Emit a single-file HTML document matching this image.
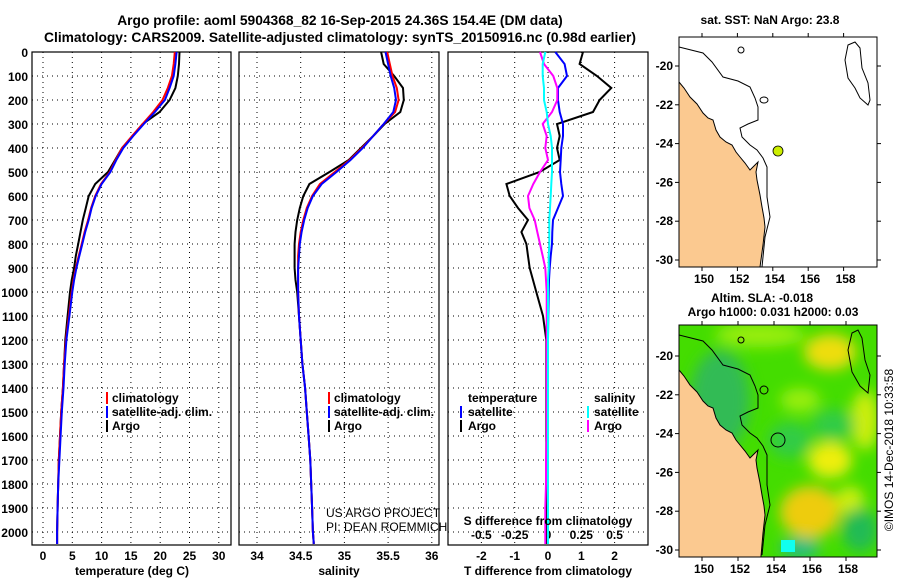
<!DOCTYPE html>
<html><head><meta charset="utf-8"><style>
body{margin:0;background:#fff;}
svg{display:block;font-family:"Liberation Sans",sans-serif;font-weight:bold;font-size:12px;}
</style></head><body>
<svg id="fig" width="900" height="580" viewBox="0 0 900 580">
<text x="340" y="25" text-anchor="middle" font-size="13.8">Argo profile: aoml 5904368_82 16-Sep-2015 24.36S 154.4E (DM data)</text>
<text x="340" y="42" text-anchor="middle" font-size="13.8">Climatology: CARS2009. Satellite-adjusted climatology: synTS_20150916.nc (0.98d earlier)</text>
<g id="axes"></g>
<g id="series"></g>

<g>
<rect x="106" y="392" width="2" height="12" fill="#f00"/><text x="112" y="402">climatology</text>
<rect x="106" y="406" width="2" height="12" fill="#00f"/><text x="112" y="416">satellite-adj. clim.</text>
<rect x="106" y="420" width="2" height="12" fill="#000"/><text x="112" y="430">Argo</text>
</g>
<g>
<rect x="328" y="392" width="2" height="12" fill="#f00"/><text x="334" y="402">climatology</text>
<rect x="328" y="406" width="2" height="12" fill="#00f"/><text x="334" y="416">satellite-adj. clim.</text>
<rect x="328" y="420" width="2" height="12" fill="#000"/><text x="334" y="430">Argo</text>
</g>
<text x="326" y="517" font-weight="normal">US ARGO PROJECT</text>
<text x="326" y="531" font-weight="normal">PI: DEAN ROEMMICH</text>
<g>
<text x="468" y="402">temperature</text>
<rect x="460" y="406" width="2" height="12" fill="#00f"/><text x="468" y="416">satellite</text>
<rect x="460" y="420" width="2" height="12" fill="#000"/><text x="468" y="430">Argo</text>
<text x="594" y="402">salinity</text>
<rect x="587" y="406" width="2" height="12" fill="#0ff"/><text x="594" y="416">satellite</text>
<rect x="587" y="420" width="2" height="12" fill="#f0f"/><text x="594" y="430">Argo</text>
</g>
<text x="548" y="525" text-anchor="middle">S difference from climatology</text>

<text x="770" y="24" text-anchor="middle">sat. SST: NaN Argo: 23.8</text>
<g>
<rect x="679" y="37" width="198" height="230" fill="#fff"/>
<polygon fill="#fbc990" stroke="#000" stroke-width="1" points="679,82 684,88 690,97 697,104 703,113 708,118 713,120 716,130 720,137 726,142 732,145 736,152 740,157 745,163 750,170 755,165 758,162 756,172 757,180 760,195 762,207 764,218 765,227 763,245 760,267 679,267"/>
<polyline fill="none" stroke="#000" stroke-width="1" points="679,47 703,53 712,62 723,77 738,81 750,87 755,98 758,107 758,120 748,124 740,128 742,137 750,145 757,150 763,158 767,167 767,182 767,197 770,217 765,237 762,267"/>
<polygon fill="none" stroke="#000" points="848,45 855,42 860,48 862,68 868,83 870,100 868,105 860,98 855,88 848,78 845,60"/>
<ellipse cx="741" cy="50" rx="3" ry="3" fill="none" stroke="#000"/>
<ellipse cx="764" cy="100" rx="4" ry="3" fill="none" stroke="#000"/>
<circle cx="778" cy="151" r="5" fill="#ccee00" stroke="#000" stroke-width="0.8"/>
<rect x="679" y="37" width="198" height="230" fill="none" stroke="#000"/>
</g>
<g id="map1ticks"></g>

<text x="762" y="302" text-anchor="middle">Altim. SLA: -0.018</text>
<text x="773" y="316" text-anchor="middle">Argo h1000: 0.031 h2000: 0.03</text>
<g>
<defs><clipPath id="c2"><rect x="679" y="325" width="198" height="232"/></clipPath>
<filter id="bl"><feGaussianBlur stdDeviation="7"/></filter></defs>
<g clip-path="url(#c2)">
<rect x="679" y="325" width="198" height="232" fill="#44dd00"/>
<g filter="url(#bl)">
<ellipse cx="830" cy="352" rx="26" ry="18" fill="#eedd11"/>
<ellipse cx="760" cy="335" rx="45" ry="12" fill="#99ee11"/>
<ellipse cx="800" cy="400" rx="20" ry="12" fill="#99ee11"/>
<ellipse cx="830" cy="460" rx="22" ry="18" fill="#eeee11"/>
<ellipse cx="810" cy="512" rx="30" ry="26" fill="#eecc11"/>
<ellipse cx="865" cy="420" rx="14" ry="30" fill="#ccee11"/>
<ellipse cx="850" cy="500" rx="14" ry="14" fill="#ccee11"/>
<ellipse cx="860" cy="530" rx="18" ry="22" fill="#22bb55"/>
<ellipse cx="833" cy="425" rx="22" ry="16" fill="#33cc44"/>
<ellipse cx="790" cy="440" rx="22" ry="18" fill="#33cc44"/>
<ellipse cx="720" cy="400" rx="30" ry="50" fill="#33bb55"/>
<ellipse cx="800" cy="548" rx="20" ry="10" fill="#22bb88"/>
</g>
<rect x="781" y="540" width="14" height="12" fill="#11ffee"/>
<polygon fill="#fbc990" stroke="#000" transform="translate(0,288)" points="679,82 684,88 690,97 697,104 703,113 708,118 713,120 716,130 720,137 726,142 732,145 736,152 740,157 745,163 750,170 755,165 758,162 756,172 757,180 760,195 762,207 764,218 765,227 763,245 760,280 679,280"/>
<polyline fill="none" stroke="#000" transform="translate(0,288)" points="679,47 703,53 712,62 723,77 738,81 750,87 755,98 758,107 758,120 748,124 740,128 742,137 750,145 757,150 763,158 767,167 767,182 767,197 770,217 765,237 762,267"/>
<polygon fill="none" stroke="#000" points="852,333 858,330 862,338 865,360 870,375 868,393 860,386 852,372 848,350"/>
<circle cx="778" cy="440" r="7" fill="none" stroke="#000"/>
<circle cx="741" cy="340" r="3" fill="none" stroke="#000"/>
<circle cx="764" cy="390" r="4" fill="none" stroke="#000"/>
</g>
<rect x="679" y="325" width="198" height="232" fill="none" stroke="#000"/>
</g>
<g id="map2ticks"></g>
<text transform="translate(893,450) rotate(-90)" text-anchor="middle" font-weight="normal" font-size="12">©IMOS 14-Dec-2018 10:33:58</text>
</svg>
<script>
const depths = [0,50,100,150,200,250,300,350,400,450,500,550,600,650,700,750,800,850,900,950,1000,1100,1200,1300,1400,1500,1600,1700,1800,1900,2000,2050];
const tempClim = [22.5,22.3,22.0,21.3,20.4,18.8,17.0,15.2,13.5,12.4,11.4,9.9,8.9,8.2,7.7,7.1,6.6,6.1,5.6,5.2,4.9,4.4,3.9,3.6,3.4,3.1,2.9,2.7,2.6,2.5,2.4,2.4];
const tempSat = [22.8,22.6,22.3,21.6,20.8,19.1,17.2,15.4,13.7,12.5,11.5,10.0,9.0,8.3,7.8,7.2,6.7,6.2,5.7,5.3,5.0,4.5,4.0,3.7,3.5,3.2,3.0,2.8,2.6,2.5,2.4,2.4];
const tempArgo = [23.3,23.2,23.0,22.6,21.6,19.9,17.0,15.3,13.5,12.3,11.1,8.9,7.8,7.3,6.8,6.4,6.0,5.6,5.3,4.9,4.6,4.2,3.8,3.6,3.4,3.1,2.9,2.7,2.6,2.5,2.4,2.4];
const salClim = [35.49,35.52,35.55,35.6,35.62,35.58,35.45,35.33,35.2,35.06,34.89,34.72,34.63,34.57,34.53,34.5,34.48,34.47,34.47,34.47,34.47,34.48,34.5,34.52,34.55,34.57,34.59,34.61,34.62,34.63,34.64,34.65];
const salSat = [35.47,35.5,35.53,35.57,35.59,35.56,35.45,35.33,35.21,35.07,34.91,34.74,34.64,34.58,34.54,34.51,34.49,34.48,34.47,34.47,34.47,34.48,34.5,34.52,34.55,34.57,34.59,34.61,34.62,34.63,34.64,34.65];
const salArgo = [35.42,35.45,35.57,35.67,35.68,35.64,35.46,35.33,35.19,35.05,34.83,34.6,34.53,34.49,34.46,34.44,34.43,34.43,34.43,34.44,34.46,34.48,34.5,34.52,34.55,34.57,34.59,34.61,34.62,34.63,34.64,34.65];
const dTempArgo = [1.05,0.95,1.47,1.9,1.55,1.35,0.27,0.35,0.27,0.35,-0.25,-1.25,-1.15,-0.9,-0.6,-0.8,-0.65,-0.6,-0.55,-0.45,-0.35,-0.15,-0.05,-0.05,-0.05,-0.05,-0.05,-0.05,-0.05,-0.05,-0.05,-0.05];
const dTempSat = [0.22,0.5,0.57,0.3,0.3,0.35,0.45,0.45,0.4,0.38,0.36,0.4,0.45,0.3,0.15,0.13,0.12,0.08,0.05,0.03,0.02,0.01,0,0,0,0,0,0,0,0,0,0];
const dSalArgo = [-0.06,-0.03,0.04,0.07,0.07,0.03,-0.04,-0.01,-0.02,0.0,-0.06,-0.11,-0.15,-0.14,-0.1,-0.08,-0.06,-0.04,-0.02,-0.015,-0.01,-0.01,-0.01,-0.01,-0.01,-0.01,-0.01,-0.015,-0.015,-0.02,-0.02,-0.02];
const dSalSat = [-0.02,-0.04,-0.04,-0.03,-0.03,-0.01,0.0,0.02,0.03,0.03,0.03,0.025,0.02,0.015,0.01,0.01,0.01,0.005,0.005,0,0,0,0,0,0,0,0,0,0,0,0,0];
const depthTicks = [0,100,200,300,400,500,600,700,800,900,1000,1100,1200,1300,1400,1500,1600,1700,1800,1900,2000];
const tempTicks = [0,5,10,15,20,25,30];
const salTicks = [34,34.5,35,35.5,36];
const dTempTicks = [-2,-1,0,1,2];
const dSalTicks = ["-0.5","-0.25","0","0.25","0.5"];
const latTicks = [-20,-22,-24,-26,-28,-30];
const lonTicks = [150,152,154,156,158];

const NS="http://www.w3.org/2000/svg";
const yD = d => 52 + d*0.24;
const xT = t => 43 + t*5.86;
const xS = s => 257 + (s-34)*87.4;
const xDT = t => 548 + t*33.3;
const xDS = s => 548 + s*133.2;
const P = [{x0:32,x1:231},{x0:239,x1:439},{x0:448,x1:648}];
const TOP=52, BOT=545;
function mk(tag,attrs,parent,text){const e=document.createElementNS(NS,tag);for(const k in attrs)e.setAttribute(k,attrs[k]);if(text!==undefined)e.textContent=text;parent.appendChild(e);return e;}
const axes=document.getElementById('axes'), ser=document.getElementById('series');

P.forEach((p,i)=>{
  depthTicks.forEach(d=>{
    const l=mk('line',{x1:p.x0,x2:p.x1,y1:yD(d),y2:yD(d),stroke:'#000','stroke-dasharray':'1 4'},axes);
    
    
  });
  const vt = i==0?tempTicks.map(xT):i==1?salTicks.map(xS):dTempTicks.map(xDT);
  vt.forEach(x=>{
    const l=mk('line',{x1:x,x2:x,y1:TOP,y2:BOT,stroke:'#000','stroke-dasharray':'1 4'},axes);
    
    
  });
  const r=mk('rect',{x:p.x0,y:TOP,width:p.x1-p.x0,height:BOT-TOP,fill:'none',stroke:'#000','stroke-width':1.2},axes);
  
  
});
depthTicks.forEach(d=>{
  const t=mk('text',{x:28,y:yD(d)+5,'text-anchor':'end'},axes,d);
  
  
});
tempTicks.forEach(v=>{const t=mk('text',{x:xT(v),y:560,'text-anchor':'middle'},axes,v);
  
  });
salTicks.forEach(v=>{const t=mk('text',{x:xS(v),y:560,'text-anchor':'middle'},axes,v);
  
  });
dTempTicks.forEach(v=>{const t=mk('text',{x:xDT(v),y:560,'text-anchor':'middle'},axes,v);
  
  });
dSalTicks.forEach(v=>{const t=mk('text',{x:xDS(parseFloat(v)),y:539,'text-anchor':'middle'},axes,v);
  
  });
[['temperature (deg C)',132],['salinity',339],['T difference from climatology',548]].forEach(a=>{
  const t=mk('text',{x:a[1],y:575,'text-anchor':'middle'},axes,a[0]);
  
  
});

function line(vals,fx,color,name){
  const pts=vals.map((v,i)=>fx(v).toFixed(1)+','+yD(depths[i]).toFixed(1)).join(' ');
  const l=mk('polyline',{points:pts,fill:'none',stroke:color,'stroke-width':2},ser);
  
  
}
line(tempArgo,xT,'#000','temp-argo-line');
line(tempClim,xT,'#f00','temp-clim-line');
line(tempSat,xT,'#00f','temp-sat-line');
line(salArgo,xS,'#000','sal-argo-line');
line(salClim,xS,'#f00','sal-clim-line');
line(salSat,xS,'#00f','sal-sat-line');
line(dTempArgo,xDT,'#000','tdiff-argo-line');
line(dTempSat,xDT,'#00f','tdiff-sat-line');
line(dSalArgo,xDS,'#f0f','sdiff-argo-line');
line(dSalSat,xDS,'#0ff','sdiff-sat-line');

function mapTicks(g,box,latY,lonX){
  latTicks.forEach(v=>{const y=latY(v);
    mk('line',{x1:box.x1,x2:box.x1+4,y1:y,y2:y,stroke:'#000'},g);
    mk('line',{x1:box.x0-4,x2:box.x0,y1:y,y2:y,stroke:'#000'},g);
    const t=mk('text',{x:box.x0-6,y:y+4,'text-anchor':'end'},g,v);
    
    
  });
  lonTicks.forEach(v=>{const x=lonX(v);
    mk('line',{x1:x,x2:x,y1:box.y1,y2:box.y1+4,stroke:'#000'},g);
    mk('line',{x1:x,x2:x,y1:box.y0-4,y2:box.y0,stroke:'#000'},g);
    const t=mk('text',{x:x+2,y:box.y1+16,'text-anchor':'middle'},g,v);
    
    
  });
}
mapTicks(document.getElementById('map1ticks'),{x0:679,x1:877,y0:37,y1:267},v=>66+(-20-v)*19.4,v=>702+(v-150)*17.7);
mapTicks(document.getElementById('map2ticks'),{x0:679,x1:877,y0:325,y1:557},v=>356+(-20-v)*19.4,v=>702+(v-150)*18);
</script>
</body></html>
